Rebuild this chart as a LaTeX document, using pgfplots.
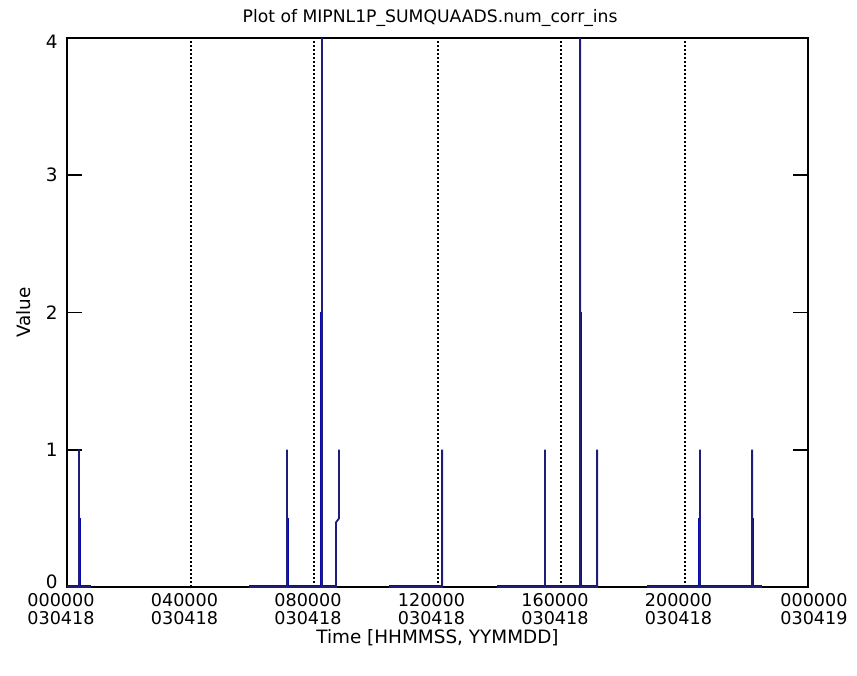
\documentclass[border=0pt]{standalone}
\usepackage{pgfplots}
\pgfplotsset{compat=1.18}
\usepackage{fontspec}
\setmainfont{DejaVu Sans}
\definecolor{thinblue}{RGB}{30,30,120}
\definecolor{thickblue}{RGB}{10,10,180}
\begin{document}
\fontsize{9}{7.5}\selectfont
\begin{tikzpicture}
\path[use as bounding box] (0,0) rectangle (428.5pt,337.5pt);
\begin{axis}[
  at={(33.5pt,44pt)}, anchor=south west,
  scale only axis, width=370.5pt, height=274.5pt,
  xmin=0, xmax=24, ymin=0, ymax=4,
  clip=false,
  axis line style={black, line width=0.8pt},
  xtick={0,4,8,12,16,20},
  xticklabels={{000000\\030418},{040000\\030418},{080000\\030418},{120000\\030418},{160000\\030418},{200000\\030418}},
  extra x ticks={24},
  extra x tick labels={{000000\\030419}},
  extra x tick style={xticklabel style={xshift=6pt}},
  xticklabel style={align=center, inner sep=0pt, yshift=-3pt, xshift=-3pt, font=\fontsize{8.8}{8.8}\selectfont},
  x tick style={draw=none},
  xmajorgrids, major grid style={black, line width=1pt, dash pattern=on 1.2pt off 0.8pt},
  ytick={0,1,2,3,4},
  ytick pos=both, tick align=inside,
  y tick style={black, line width=0.8pt},
  major tick length=7.5pt,
  yticklabel style={inner sep=0pt, xshift=-4.5pt, yshift={\ticknum==0 ? 2.5 : (\ticknum==4 ? -2 : 0)}, font=\fontsize{9.2}{8}\selectfont},
  /pgf/number format/assume math mode=true,
  title={Plot of MIPNL1P\_SUMQUAADS.num\_corr\_ins},
  title style={at={(axis description cs:0.49,1)}, anchor=center, yshift=4pt, inner sep=0pt, font=\fontsize{8.6}{9}\selectfont},
  xlabel={Time [HHMMSS, YYMMDD]},
  xlabel style={at={(axis description cs:0.5,0)}, anchor=center, yshift=-25.5pt, inner sep=0pt, font=\fontsize{9.2}{9}\selectfont},
  ylabel={Value},
  ylabel style={at={(axis description cs:-0.058,0.5)}, anchor=center, inner sep=0pt, font=\fontsize{9.2}{9}\selectfont},
  unbounded coords=jump,
]
% thick (overdrawn) parts: baselines and lower halves of spikes
\addplot[thickblue, line width=1.5pt] table[row sep=\\] {
x y\\
0 0\\ 0.78 0\\ nan nan\\
5.91 0\\ 8.71 0\\ nan nan\\
10.43 0\\ 12.15 0\\ nan nan\\
13.93 0\\ 17.17 0\\ nan nan\\
18.79 0\\ 22.51 0\\ nan nan\\
0.389 0\\ 0.389 0.5\\ nan nan\\
7.126 0\\ 7.126 0.5\\ nan nan\\
8.259 0\\ 8.259 2\\ nan nan\\
16.62 0\\ 16.62 2\\ nan nan\\
20.50 0\\ 20.50 0.5\\ nan nan\\
22.19 0\\ 22.19 0.5\\
};
% thin trace
\addplot[thinblue, line width=0.9pt] table[row sep=\\] {
x y\\
0 0\\ 0.389 0\\ 0.389 1\\ 0.389 0\\ 0.78 0\\ nan nan\\
5.91 0\\ 7.126 0\\ 7.126 1\\ 7.126 0\\ 8.259 0\\ 8.259 4\\ 8.259 0\\ 8.71 0\\ 8.71 0.47\\ 8.81 0.5\\ 8.81 1\\ nan nan\\
10.43 0\\ 12.15 0\\ 12.15 1\\ nan nan\\
13.93 0\\ 15.48 0\\ 15.48 1\\ 15.48 0\\ 16.62 0\\ 16.62 4\\ 16.62 0\\ 17.17 0\\ 17.17 1\\ nan nan\\
18.79 0\\ 20.50 0\\ 20.50 1\\ 20.50 0\\ 22.19 0\\ 22.19 1\\ 22.19 0\\ 22.51 0\\
};
\end{axis}
\end{tikzpicture}
\end{document}
